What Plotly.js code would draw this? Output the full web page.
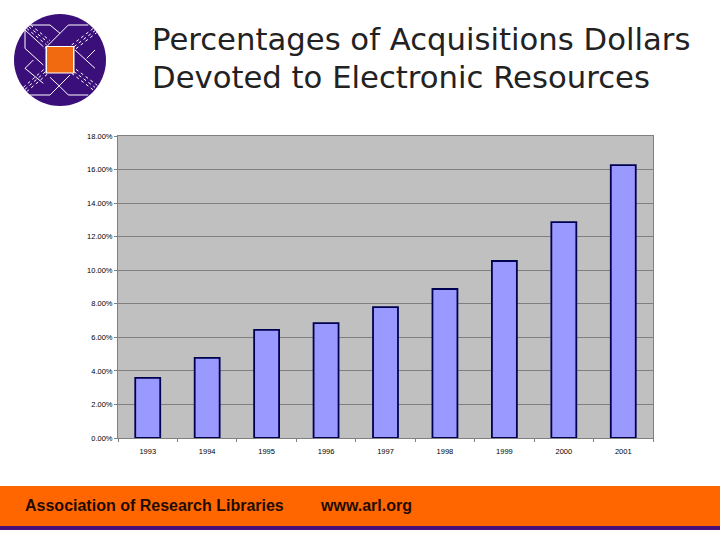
<!DOCTYPE html>
<html><head><meta charset="utf-8">
<script src="https://cdn.plot.ly/plotly-3.0.1.min.js"></script>
<style>html,body{margin:0;padding:0;background:#fff}</style></head>
<body><div id="chart" style="width:720px;height:540px"></div>
<script>
const years = ['1993','1994','1995','1996','1997','1998','1999','2000','2001'];
const percentages = [3.58,4.77,6.44,6.85,7.80,8.88,10.55,12.87,16.27];
const yTickValues = [0,2,4,6,8,10,12,14,16,18];
const yTickLabels = ['0.00%','2.00%','4.00%','6.00%','8.00%','10.00%','12.00%','14.00%','16.00%','18.00%'];
const titleLines = ['Percentages of Acquisitions Dollars','Devoted to Electronic Resources'];
const footerLeft = 'Association of Research Libraries';
const footerRight = 'www.arl.org';

const L=118,R=653,T=136,B=438;
const px=x=>(x-L)/(R-L), py=y=>(B-y)/(B-T);
const box=(x0,y0,x1,y1,fill,type)=>({type:type||'rect',xref:'paper',yref:'paper',x0:px(x0),x1:px(x1),y0:py(y1),y1:py(y0),fillcolor:fill,line:{width:0},layer:'above'});
const seg=(a,b,c,d,dash,w)=>({type:'line',xref:'paper',yref:'paper',x0:px(a/3),y0:py(b/3),x1:px(c/3),y1:py(d/3),line:{color:'#fff',width:w||1,dash:dash||'solid'},layer:'above'});
const logoLines=[[75,90,130,140],[75,90,75,145],[75,145,130,195],[75,205,100,180],[75,205,130,250],
 [90,75,150,75],[150,75,180,100],[205,75,135,145],[205,75,265,75],[90,285,150,285],[150,285,210,225],
 [180,260,205,285],[205,285,265,285],[180,260,150,232],[225,150,285,205],[260,175,285,150]];
const logoBands=[[80,85,140,135],[86,80,145,128],[92,75,150,122],[215,135,280,85],[222,140,285,92],[228,146,290,98],
 [80,275,145,220],[75,268,138,214],[70,262,132,208],[215,220,280,270],[222,215,285,262],[228,208,292,256]];
const shapes=[
 box(14,14,106,106,'#3a0f7a','circle'),
 ...logoLines.map(s=>seg(...s)),
 ...logoBands.map(s=>seg(...s,'dot',1)),
 box(45.5,46,74.5,73.5,'#ffffff'),
 box(47,47,73,72.5,'#f26a10'),
 box(0,486,720,526,'#ff6600'),
 box(0,526,720,530,'#4b0f7a')
];
const ann=(text,x,y,size,color,family,weight)=>({xref:'paper',yref:'paper',x:px(x),y:py(y),xanchor:'left',yanchor:'middle',showarrow:false,align:'left',borderpad:0,
 text:text,font:{size:size,color:color,family:family,weight:weight||400}});
const annotations=[
 ann(titleLines[0],151,39,30.7,'#222222','"DejaVu Sans"',400),
 ann(titleLines[1],151,77,30.7,'#222222','"DejaVu Sans"',400),
 ann(footerLeft,24,505.5,16,'#1f0c00','"Liberation Sans"',700),
 ann(footerRight,319,505.5,16,'#1f0c00','"Liberation Sans"',700)
];
Plotly.newPlot('chart',[{type:'bar',x:years,y:percentages,
  marker:{color:'#9999ff',line:{color:'#000050',width:1.8}},hoverinfo:'x+y'}],
 {width:720,height:540,margin:{l:L,r:720-R,t:T,b:540-B,pad:0},
  paper_bgcolor:'#fff',plot_bgcolor:'#c0c0c0',bargap:0.58,showlegend:false,
  font:{family:'"Liberation Sans"',size:7.5,color:'#000'},
  xaxis:{type:'category',tickson:'boundaries',ticks:'outside',ticklen:3,tickcolor:'#808080',showgrid:false,showline:true,linecolor:'#808080',linewidth:1,ticklabelstandoff:6,tickfont:{size:7.5},automargin:false,mirror:true},
  yaxis:{range:[0,18],tickvals:yTickValues,ticktext:yTickLabels,ticks:'outside',ticklen:3,tickcolor:'#808080',gridcolor:'#808080',gridwidth:1,showline:true,linecolor:'#808080',linewidth:1,zeroline:false,automargin:false,mirror:true,tickfont:{size:7.5}},
  shapes:shapes,annotations:annotations},
 {displayModeBar:false,staticPlot:true});
</script></body></html>
